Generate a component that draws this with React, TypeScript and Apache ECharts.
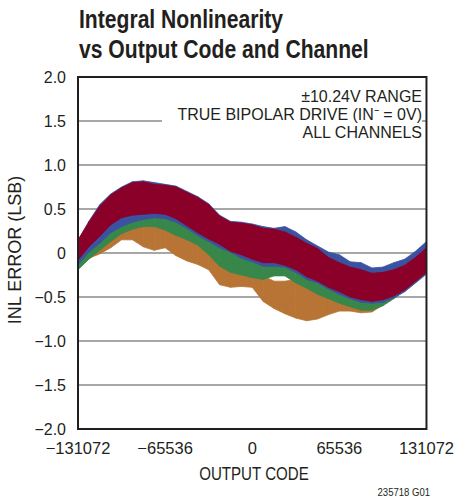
import React, { useEffect, useRef } from "react";
import * as echarts from "echarts";

// Output codes (x positions of the envelope readings)
const codes = [
  -131072, -122880, -114688, -106496, -98304, -90112, -81920, -73728, -65536,
  -57344, -49152, -40960, -32768, -24576, -16384, -8192, 0, 8192, 16384, 24576,
  32768, 40960, 49152, 57344, 65536, 73728, 81920, 90112, 98304, 106496, 114688,
  122880, 131072,
];

// INL error envelopes (LSB), one upper/lower pair per channel
const redTop = [
  0.15, 0.35, 0.53, 0.66, 0.74, 0.8, 0.81, 0.78, 0.77, 0.75, 0.69, 0.63, 0.55,
  0.42, 0.35, 0.34, 0.32, 0.28, 0.27, 0.24, 0.18, 0.11, 0.05, -0.05, -0.11,
  -0.16, -0.19, -0.23, -0.22, -0.19, -0.14, -0.05, 0.06,
];
const redBottom = [
  -0.08, 0.07, 0.19, 0.32, 0.4, 0.43, 0.44, 0.45, 0.44, 0.39, 0.31, 0.23, 0.16,
  0.1, 0.02, -0.02, -0.07, -0.11, -0.11, -0.14, -0.19, -0.27, -0.32, -0.39,
  -0.44, -0.5, -0.53, -0.55, -0.53, -0.49, -0.42, -0.32, -0.22,
];
const blueTop = [
  0.14, 0.36, 0.55, 0.67, 0.75, 0.81, 0.82, 0.8, 0.78, 0.76, 0.7, 0.64, 0.56,
  0.43, 0.36, 0.35, 0.33, 0.3, 0.28, 0.3, 0.24, 0.15, 0.08, 0.01, -0.02, -0.1,
  -0.11, -0.17, -0.16, -0.11, -0.07, 0.02, 0.13,
];
const blueBottom = [
  -0.13, 0.01, 0.11, 0.23, 0.3, 0.35, 0.38, 0.4, 0.39, 0.35, 0.28, 0.2, 0.13,
  0.06, 0.01, -0.06, -0.1, -0.15, -0.15, -0.16, -0.22, -0.3, -0.34, -0.41,
  -0.47, -0.52, -0.56, -0.57, -0.56, -0.51, -0.44, -0.34, -0.24,
];
const greenTop = [
  -0.1, 0.04, 0.14, 0.26, 0.33, 0.38, 0.41, 0.43, 0.42, 0.38, 0.31, 0.23, 0.16,
  0.09, 0.04, -0.03, -0.07, -0.12, -0.12, -0.13, -0.19, -0.27, -0.31, -0.38,
  -0.44, -0.49, -0.53, -0.54, -0.53, -0.48, -0.41, -0.31, -0.21,
];
const greenBottom = [
  -0.19, -0.07, 0.03, 0.13, 0.22, 0.27, 0.3, 0.3, 0.26, 0.2, 0.15, 0.09, -0.02,
  -0.15, -0.22, -0.25, -0.28, -0.3, -0.26, -0.26, -0.34, -0.4, -0.47, -0.52,
  -0.57, -0.61, -0.65, -0.65, -0.6, -0.52, -0.43, -0.33, -0.22,
];
const orangeTop = [
  -0.15, -0.03, 0.07, 0.17, 0.26, 0.31, 0.34, 0.34, 0.3, 0.24, 0.19, 0.13, 0.02,
  -0.11, -0.18, -0.21, -0.24, -0.26, -0.32, -0.32, -0.3, -0.36, -0.43, -0.48,
  -0.53, -0.57, -0.61, -0.61, -0.56, -0.48, -0.39, -0.29, -0.18,
];
const orangeBottom = [
  -0.17, -0.06, -0.01, 0.06, 0.15, 0.15, 0.07, 0.03, 0.06, -0.03, -0.09, -0.13,
  -0.19, -0.36, -0.39, -0.38, -0.39, -0.55, -0.63, -0.69, -0.74, -0.77, -0.75,
  -0.7, -0.66, -0.66, -0.68, -0.67, -0.59, -0.51, -0.42, -0.33, -0.23,
];

const xTicks = [-131072, -65536, 0, 65536, 131072];
const yTicks = [-2, -1.5, -1, -0.5, 0, 0.5, 1, 1.5, 2];

const TITLE_LINES = ["Integral Nonlinearity", "vs Output Code and Channel"];
const NOTE_LINES = ["±10.24V RANGE", "TRUE BIPOLAR DRIVE (IN\u207B = 0V)", "ALL CHANNELS"];

const INK = "#231f20";
const SANS = "'Liberation Sans', Arial, sans-serif";

const minus = (s: string) => s.replace("-", "\u2212");

function band(name: string, color: string, upper: number[], lower: number[], z: number) {
  return {
    type: "custom",
    name,
    z,
    silent: true,
    clip: true,
    data: codes.map((c, i) => [c, lower[i], upper[i]]),
    encode: { x: 0, y: [1, 2] },
    renderItem: (params: any, api: any) => {
      const i = params.dataIndex;
      if (i >= codes.length - 1) return null;
      const pts = [
        api.coord([codes[i], upper[i]]),
        api.coord([codes[i + 1], upper[i + 1]]),
        api.coord([codes[i + 1], lower[i + 1]]),
        api.coord([codes[i], lower[i]]),
      ];
      return {
        type: "polygon",
        shape: { points: pts },
        style: { fill: color, stroke: color, lineWidth: 0.8 },
      };
    },
  };
}

export default function App() {
  const ref = useRef<HTMLDivElement>(null);
  useEffect(() => {
    if (!ref.current) return;
    const chart = echarts.init(ref.current, null, { renderer: "svg" });
    chart.setOption({
      animation: false,
      backgroundColor: "#ffffff",
      grid: {
        left: 78,
        right: 27,
        top: 77,
        bottom: 70,
        show: true,
        z: 10,
        backgroundColor: "transparent",
        borderColor: INK,
        borderWidth: 2,
      },
      xAxis: {
        type: "value",
        min: xTicks[0],
        max: xTicks[xTicks.length - 1],
        interval: xTicks[1] - xTicks[0],
        axisLine: { show: false },
        axisTick: { show: false },
        splitLine: { show: false },
        axisLabel: {
          margin: 10,
          fontFamily: SANS,
          fontSize: 16.5,
          color: INK,
          formatter: (v: number) => minus(String(v)),
        },
      },
      yAxis: {
        type: "value",
        min: yTicks[0],
        max: yTicks[yTicks.length - 1],
        interval: yTicks[1] - yTicks[0],
        axisLine: { show: false },
        axisTick: { show: false },
        splitLine: { show: true, lineStyle: { color: "#8a8a8a", width: 1.6 } },
        axisLabel: {
          margin: 12,
          fontFamily: SANS,
          fontSize: 16,
          color: INK,
          formatter: (v: number) => (v === 0 ? "0" : minus(v.toFixed(1))),
        },
      },
      series: [
        band("CH orange", "#b87434", orangeTop, orangeBottom, 2),
        band("CH green", "#38874a", greenTop, greenBottom, 3),
        band("CH blue", "#3a52a0", blueTop, blueBottom, 4),
        band("CH red", "#8b0028", redTop, redBottom, 5),
      ],
      graphic: [
        {
          type: "text",
          x: 79,
          y: 5,
          scaleX: 0.845,
          style: {
            text: TITLE_LINES.join("\n"),
            font: `bold 25px ${SANS}`,
            fill: INK,
            lineHeight: 29.5,
          },
        },
        {
          type: "rect",
          shape: { x: 162, y: 86, width: 260, height: 54 },
          style: { fill: "#ffffff" },
          z: 50,
        },
        {
          type: "text",
          x: 422,
          y: 87,
          z: 51,
          style: {
            text: NOTE_LINES.join("\n"),
            font: `16px ${SANS}`,
            fill: INK,
            align: "right",
            verticalAlign: "top",
            lineHeight: 18,
          },
        },
        {
          type: "text",
          x: 15,
          y: 250,
          rotation: Math.PI / 2,
          style: {
            text: "INL ERROR (LSB)",
            font: `18px ${SANS}`,
            fill: INK,
            align: "center",
            verticalAlign: "middle",
          },
        },
        {
          type: "text",
          x: 254,
          y: 474,
          scaleX: 0.84,
          style: {
            text: "OUTPUT CODE",
            font: `18px ${SANS}`,
            fill: INK,
            align: "center",
            verticalAlign: "middle",
          },
        },
        {
          type: "text",
          x: 430,
          y: 492,
          scaleX: 0.83,
          style: {
            text: "235718 G01",
            font: `11.5px ${SANS}`,
            fill: INK,
            align: "right",
            verticalAlign: "middle",
          },
        },
      ],
    });
    return () => chart.dispose();
  }, []);
  return (
    <div
      ref={ref}
      style={{ position: "fixed", left: 0, top: 0, width: 457, height: 499 }}
    />
  );
}
